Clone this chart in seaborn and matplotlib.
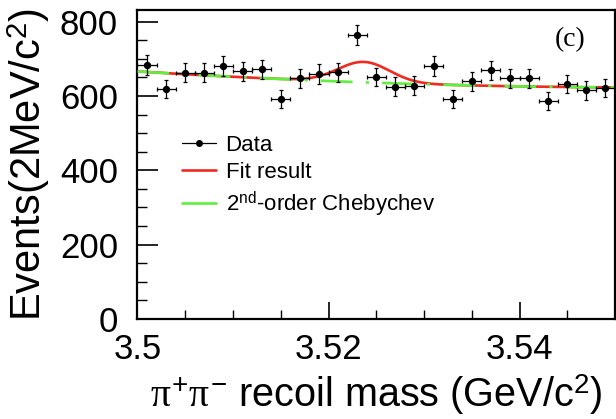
import numpy as np
import pandas as pd
import matplotlib
matplotlib.use("Agg")
import matplotlib.pyplot as plt
from matplotlib.lines import Line2D
import seaborn as sns

# Binned pi+pi- recoil mass spectrum (2 MeV bins)
bin_centers = [3.501, 3.503, 3.505, 3.507, 3.509, 3.511, 3.513, 3.515, 3.517,
               3.519, 3.521, 3.523, 3.525, 3.527, 3.529, 3.531, 3.533, 3.535,
               3.537, 3.539, 3.541, 3.543, 3.545, 3.547, 3.549]
events = [683, 619, 663, 663, 681, 666, 672, 592, 648, 659, 664, 764, 651,
          625, 628, 681, 593, 639, 669, 648, 648, 587, 632, 615, 621]
half_bin = 0.001

# Fit components: 2nd-order Chebychev background + Gaussian signal
mass_range = [3.5, 3.55]
cheb_coeffs = [640.0, -21.5, 4.5]
peak_mean = 3.5237
peak_sigma = 0.0027
peak_height = 55.0

sns.set_theme(style="ticks")
plt.rcParams["font.family"] = ["Liberation Sans", "DejaVu Sans"]
plt.rcParams["mathtext.fontset"] = "custom"
plt.rcParams["mathtext.rm"] = "Liberation Sans"
plt.rcParams["mathtext.it"] = "Liberation Serif"
for key in ["text.color", "axes.labelcolor", "xtick.color", "ytick.color",
            "axes.edgecolor"]:
    plt.rcParams[key] = "black"

fig = plt.figure(figsize=(6.16, 4.19), dpi=100)
ax = fig.add_axes([0.2232, 0.2387, 0.7752, 0.7363])

m = np.linspace(mass_range[0], mass_range[1], 400)
u = (2 * m - (mass_range[0] + mass_range[1])) / (mass_range[1] - mass_range[0])
background = np.polynomial.chebyshev.chebval(u, cheb_coeffs)
total = background + peak_height * np.exp(-0.5 * ((m - peak_mean) / peak_sigma) ** 2)

curves = pd.DataFrame({"mass": m, "total": total, "bkg": background})
sns.lineplot(data=curves, x="mass", y="total", ax=ax, color="#f02a1e",
             linewidth=1.9, zorder=2)
bkg_line = sns.lineplot(data=curves, x="mass", y="bkg", ax=ax, color="#5ef03a",
                        linewidth=1.9, zorder=3)
bkg_line.lines[-1].set_dashes([12, 5, 1.2, 5])

data = pd.DataFrame({"mass": bin_centers, "events": events})
ax.errorbar(data["mass"], data["events"], yerr=np.sqrt(data["events"]),
            xerr=half_bin, fmt="none", ecolor="black", elinewidth=0.9,
            capsize=1.6, capthick=0.9, zorder=4)
sns.scatterplot(data=data, x="mass", y="events", ax=ax, color="black",
                s=28, edgecolor="black", linewidth=0, zorder=5)

ax.set_xlim(*mass_range)
ax.set_ylim(0, 830)
ax.set_xticks([3.5, 3.52, 3.54])
ax.set_xticklabels(["3.5", "3.52", "3.54"])
ax.set_xticks(np.arange(3.5, 3.5501, 0.005), minor=True)
ax.set_yticks([0, 200, 400, 600, 800])
ax.set_yticks(np.arange(0, 830, 50), minor=True)
ax.tick_params(axis="both", which="major", direction="in", labelsize=25,
               width=1.2, color="black", labelcolor="black",
               top=False, right=False)
ax.tick_params(axis="y", which="major", length=15, pad=14)
ax.tick_params(axis="x", which="major", length=12, pad=10)
ax.tick_params(axis="y", which="minor", direction="in", length=7.5, width=1.0)
ax.tick_params(axis="x", which="minor", direction="in", length=6.5, width=1.0)
for side in ["left", "bottom", "top", "right"]:
    ax.spines[side].set_linewidth(1.6)
    ax.spines[side].set_color("black")

ax.set_xlabel(r"$\pi^{+}\pi^{-}$ recoil mass (GeV/c$^{2}$)", fontsize=28.5)
ax.set_ylabel(r"Events(2MeV/c$^{2}$)", fontsize=30, labelpad=0)
ax.yaxis.set_label_coords(-0.18, 0.5)
ax.xaxis.label.set_verticalalignment("baseline")
ax.xaxis.set_label_coords(0.5, -0.285)

ax.text(0.905, 0.905, "(c)", transform=ax.transAxes, fontsize=20,
        family="Liberation Serif", ha="center", va="center")

handles = [
    Line2D([], [], color="black", lw=0.9, marker="o", ms=4),
    Line2D([], [], color="#f02a1e", lw=1.9),
    Line2D([], [], color="#5ef03a", lw=1.9),
]
labels = ["Data", "Fit result", r"2$^{\mathrm{nd}}$-order Chebychev"]
ax.legend(handles, labels, loc="upper left", bbox_to_anchor=(0.075, 0.625),
          frameon=False, fontsize=16, handlelength=1.5, handletextpad=0.45,
          labelspacing=0.28, borderaxespad=0)

fig.savefig("out.png", dpi=100)
